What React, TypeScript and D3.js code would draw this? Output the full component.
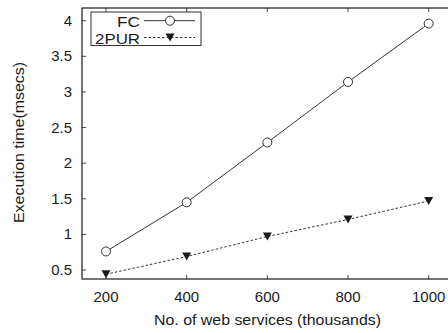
import React from "react";
import * as d3 from "d3";

const xValues = [200, 400, 600, 800, 1000];
const fcValues = [0.76, 1.45, 2.29, 3.14, 3.96];
const purValues = [0.44, 0.69, 0.97, 1.21, 1.47];
const xTicks = [200, 400, 600, 800, 1000];
const yTicks = [0.5, 1, 1.5, 2, 2.5, 3, 3.5, 4];
const seriesNames = ["FC", "2PUR"];

const W = 448;
const H = 333;
const left = 82;
const right = 449;
const top = 8;
const bottom = 279;

export default function App() {
  const xs = d3.scaleLinear().domain([200, 1000]).range([106, 428.7]);
  const ys = d3.scaleLinear().domain([0.5, 4]).range([270, 20.7]);
  const fcPath = d3.line<number>().x((_, i) => xs(xValues[i])).y((v) => ys(v))(fcValues) || "";
  const purPath = d3.line<number>().x((_, i) => xs(xValues[i])).y((v) => ys(v))(purValues) || "";
  const stroke = "#1a1a1a";
  const font = "'Liberation Sans', Arial, Helvetica, sans-serif";
  const tri = (cx: number, cy: number) => `M${cx - 4.5},${cy - 4}L${cx + 4.5},${cy - 4}L${cx},${cy + 4}Z`;
  return (
    <svg width={W} height={H} style={{ display: "block", position: "absolute", left: 0, top: 0, background: "#fff" }}>
      <rect x={0} y={0} width={W} height={H} fill="#fff" />
      <rect x={left} y={top} width={right - left} height={bottom - top} fill="none" stroke={stroke} strokeWidth={1.2} />
      {xTicks.map((t) => (
        <g key={t}>
          <line x1={xs(t)} x2={xs(t)} y1={bottom} y2={bottom - 4} stroke={stroke} strokeWidth={0.8} />
          <line x1={xs(t)} x2={xs(t)} y1={top} y2={top + 4} stroke={stroke} strokeWidth={0.8} />
          <text x={xs(t)} y={302} textAnchor="middle" fontFamily={font} fontSize={15} fill={stroke}>{t}</text>
        </g>
      ))}
      {yTicks.map((t) => (
        <g key={t}>
          <line x1={left} x2={left + 4} y1={ys(t)} y2={ys(t)} stroke={stroke} strokeWidth={0.8} />
          <text x={72} y={ys(t) + 5} textAnchor="end" fontFamily={font} fontSize={15} fill={stroke}>{t}</text>
        </g>
      ))}
      <path d={fcPath} fill="none" stroke={stroke} strokeWidth={0.9} />
      <path d={purPath} fill="none" stroke={stroke} strokeWidth={0.9} strokeDasharray="2.5,2" />
      {fcValues.map((v, i) => (
        <circle key={"c" + i} cx={xs(xValues[i])} cy={ys(v)} r={4.5} fill="#fff" stroke={stroke} strokeWidth={0.9} />
      ))}
      {purValues.map((v, i) => (
        <path key={"t" + i} d={tri(xs(xValues[i]), ys(v))} fill={stroke} />
      ))}
      <rect x={91} y={12} width={110} height={33.5} fill="#fff" stroke={stroke} strokeWidth={0.9} />
      <text x={140} y={26.5} textAnchor="end" fontFamily={font} fontSize={15} fill={stroke} textLength={23} lengthAdjust="spacingAndGlyphs">{seriesNames[0]}</text>
      <text x={140} y={43.5} textAnchor="end" fontFamily={font} fontSize={15} fill={stroke} textLength={45} lengthAdjust="spacingAndGlyphs">{seriesNames[1]}</text>
      <line x1={144} x2={195} y1={20.7} y2={20.7} stroke={stroke} strokeWidth={0.9} />
      <circle cx={170} cy={20.7} r={4.5} fill="#fff" stroke={stroke} strokeWidth={0.9} />
      <line x1={144} x2={195} y1={37.5} y2={37.5} stroke={stroke} strokeWidth={0.9} strokeDasharray="2.5,2" />
      <path d={tri(170, 37.5)} fill={stroke} />
      <text x={154} y={325} fontFamily={font} fontSize={15} fill={stroke} textLength={227} lengthAdjust="spacingAndGlyphs">No. of web services (thousands)</text>
      <text transform={`translate(23.5,223) rotate(-90)`} fontFamily={font} fontSize={15} fill={stroke} textLength={161} lengthAdjust="spacingAndGlyphs">Execution time(msecs)</text>
    </svg>
  );
}
